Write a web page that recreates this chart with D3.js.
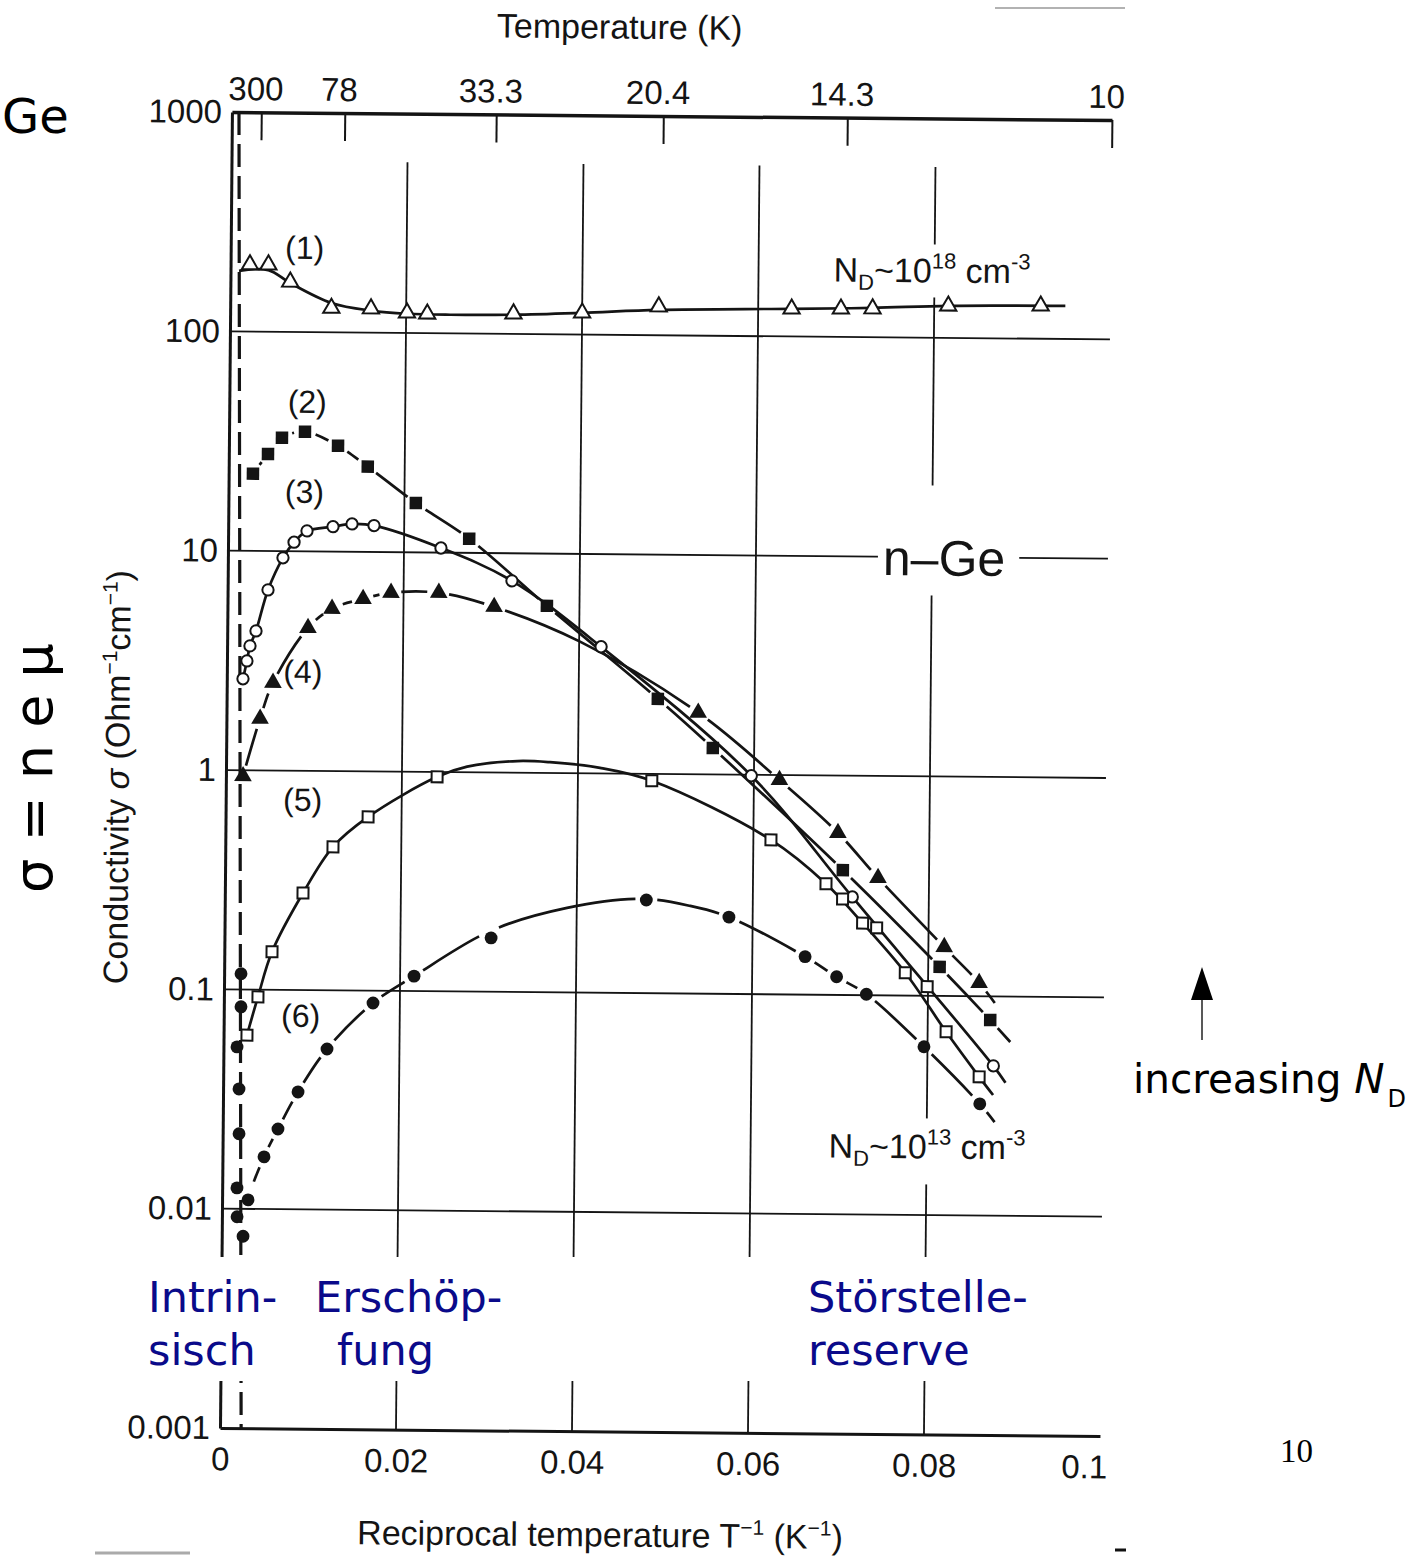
<!DOCTYPE html>
<html>
<head>
<meta charset="utf-8">
<script src="https://cdn.jsdelivr.net/npm/d3@7"></script>
<style>
  html, body { margin: 0; padding: 0; background: #fff; }
  svg { display: block; }
</style>
</head>
<body>
<svg id="chart" width="1417" height="1556"></svg>
<script>
// ---- axis ticks -------------------------------------------------------
const xTicks = [0, 0.02, 0.04, 0.06, 0.08, 0.1];
const xTickLabels = ["0", "0.02", "0.04", "0.06", "0.08", "0.1"];
const yTicks = [1000, 100, 10, 1, 0.1, 0.01, 0.001];
const yTickLabels = ["1000", "100", "10", "1", "0.1", "0.01", "0.001"];
const tempTicks = [300, 78, 33.3, 20.4, 14.3, 10];            // K, placed at 1/T
const tempTickLabels = ["300", "78", "33.3", "20.4", "14.3", "10"];
const gridX = [0.02, 0.04, 0.06, 0.08];
const gridY = [100, 10, 1, 0.1, 0.01];

// ---- measured conductivity: [1/T (1/K), sigma (1/(Ohm cm))] -----------
const pts1 = [[0.0022,202],[0.0043,202],[0.0068,169],[0.0115,129],[0.0160,128.6],[0.0201,123.6],
  [0.0224,122.5],[0.0322,123.6],[0.0400,125.7],[0.0487,134.9],[0.0638,133.7],[0.0694,134.3],
  [0.0730,135],[0.0816,140],[0.0921,141.3]];
const pts2 = [[0.00276,22.5],[0.00445,27.7],[0.00602,32.9],[0.00863,35.1],[0.0124,30.4],[0.0158,24.5],
  [0.0213,16.8],[0.0274,11.6],[0.0363,5.78],[0.0490,2.20],[0.0553,1.32],[0.0702,0.371],
  [0.0813,0.1355],[0.0871,0.078]];
const pts3 = [[0.00184,2.61],[0.00227,3.15],[0.0026,3.69],[0.00327,4.32],[0.00459,6.65],[0.00626,9.33],
  [0.0075,11.0],[0.00896,12.4],[0.01191,13.0],[0.01407,13.4],[0.01657,13.2],[0.0242,10.5],
  [0.0323,7.49],[0.0425,3.78],[0.0597,0.99],[0.0713,0.280],[0.0875,0.0482]];
const pts4 = [[0.00194,0.94],[0.00382,1.72],[0.00525,2.51],[0.00917,4.48],[0.01188,5.49],[0.0154,6.11],
  [0.01857,6.53],[0.0240,6.56],[0.0303,5.69],[0.0536,1.91],[0.0629,0.95],[0.0696,0.548],
  [0.0742,0.343],[0.0818,0.167],[0.0858,0.115]];
const pts5 = [[0.00266,0.062],[0.00387,0.0927],[0.00542,0.149],[0.00888,0.277],[0.01224,0.451],
  [0.0162,0.62],[0.0240,0.95],[0.0484,0.93],[0.0620,0.506],[0.0683,0.321],[0.0702,0.274],
  [0.0725,0.213],[0.0741,0.203],[0.0774,0.127],[0.0799,0.110],[0.0821,0.0686],[0.0859,0.0429]];
const pts6 = [[0.00192,0.118],[0.00195,0.0834],[0.00154,0.0547],[0.00181,0.0352],[0.00186,0.0220],
  [0.00168,0.01245],[0.00172,0.0092],[0.00242,0.0075],[0.00295,0.011],[0.00472,0.0173],
  [0.00628,0.0232],[0.00852,0.0343],[0.01177,0.054],[0.01695,0.0879],[0.02158,0.117],
  [0.0303,0.176],[0.0479,0.266],[0.0573,0.224],[0.0660,0.149],[0.0696,0.121],[0.0730,0.101],
  [0.0796,0.0585],[0.0860,0.0323]];

// ---- hand-drawn guide curves through each data set -----------------------
const fit1 = [[0.00097,189],[0.0043,191],[0.0068,167],[0.0115,136],[0.0160,126],[0.0201,122.4],
  [0.0250,121.6],[0.0322,122.4],[0.0400,125.7],[0.0487,130.6],[0.0638,133.7],[0.0730,136],
  [0.0816,140],[0.0949,141.5]];
const fit2 = [[0.00276,22.5],[0.00445,27.7],[0.00602,32.9],[0.00863,35.1],[0.0124,30.4],[0.0158,24.5],
  [0.0213,16.8],[0.0274,11.6],[0.0363,5.78],[0.0490,2.20],[0.0553,1.32],[0.0702,0.371],
  [0.0813,0.1355],[0.0871,0.078],[0.0894,0.062]];
const fit3 = [[0.00184,2.61],[0.00227,3.15],[0.0026,3.69],[0.00327,4.32],[0.00459,6.65],[0.00626,9.33],
  [0.0075,11.0],[0.00896,12.4],[0.01191,13.0],[0.01407,13.4],[0.01657,13.2],[0.0242,10.5],
  [0.0323,7.49],[0.0425,3.78],[0.0597,0.99],[0.0713,0.280],[0.0875,0.0482],[0.0889,0.0404]];
const fit4 = [[0.00194,0.94],[0.00382,1.72],[0.00525,2.51],[0.00917,4.48],[0.01188,5.49],[0.0154,6.11],
  [0.01857,6.53],[0.0240,6.56],[0.0303,5.69],[0.0401,3.98],[0.0536,1.91],[0.0629,0.95],
  [0.0696,0.548],[0.0742,0.343],[0.0818,0.167],[0.0858,0.115],[0.0876,0.0933]];
const fit5 = [[0.00266,0.062],[0.00387,0.0927],[0.00542,0.149],[0.00888,0.277],[0.01224,0.451],
  [0.0162,0.62],[0.0240,0.95],[0.0274,1.06],[0.0331,1.13],[0.0368,1.12],[0.0425,1.06],
  [0.0484,0.93],[0.0620,0.506],[0.0683,0.321],[0.0725,0.213],[0.0774,0.127],[0.0821,0.0686],
  [0.0859,0.0429],[0.0875,0.0355]];
const fit6 = [[0.00242,0.0075],[0.00295,0.011],[0.00472,0.0173],[0.00628,0.0232],[0.00852,0.0343],
  [0.01177,0.054],[0.01695,0.0879],[0.02158,0.117],[0.0303,0.19],[0.0389,0.243],[0.0472,0.269],
  [0.0529,0.251],[0.0573,0.224],[0.0660,0.149],[0.0696,0.121],[0.0730,0.101],[0.0796,0.0585],
  [0.0860,0.0323],[0.0877,0.0267]];
// boundary of the intrinsic range
const intrinsicEdge = [[0.0008,1000],[0.0024,0.001]];

const seriesLabels = ["(1)", "(2)", "(3)", "(4)", "(5)", "(6)"];

// ---- drawing ------------------------------------------------------------
const W = 1417, H = 1556;
const ink = "#141414";
const scanFont = "'Liberation Sans', Arial, Helvetica, sans-serif";
const slideFont = "'DejaVu Sans', Verdana, sans-serif";

const svg = d3.select("#chart");
svg.append("rect").attr("width", W).attr("height", H).attr("fill", "#fff");

const x = d3.scaleLinear().domain([0, 0.1]).range([220, 1100]);
const y = d3.scaleLog().domain([0.001, 1000]).range([1428, 112]);

// the printed figure sits slightly tilted on the page
const plot = svg.append("g").attr("transform", "rotate(0.52 220 1428)");
const gGrid = plot.append("g");
const gBg = plot.append("g");
const gAxes = plot.append("g");
const gCurves = plot.append("g");
const gMarks = plot.append("g");
const gText = plot.append("g").attr("font-family", scanFont).attr("fill", ink);

// grid
gGrid.selectAll("line.h").data(gridY).join("line").attr("class", "h")
  .attr("x1", x(0)).attr("x2", x(0.1)).attr("y1", d => y(d)).attr("y2", d => y(d))
  .attr("stroke", ink).attr("stroke-width", 1.8);
gGrid.selectAll("line.v").data(gridX).join("line").attr("class", "v")
  .attr("x1", d => x(d)).attr("x2", d => x(d)).attr("y1", y(600)).attr("y2", y(0.001))
  .attr("stroke", ink).attr("stroke-width", 1.8);

// axes
function styleAxis(g, w) {
  g.attr("font-size", 33).attr("font-family", scanFont).attr("color", ink);
  g.select(".domain").attr("stroke-width", w);
  g.selectAll(".tick line").attr("stroke-width", 2);
}
const axL = gAxes.append("g").attr("transform", `translate(${x(0)},0)`)
  .call(d3.axisLeft(y).tickValues(yTicks).tickFormat((d, i) => yTickLabels[i]).tickSize(0).tickPadding(10));
styleAxis(axL, 3);
const axB = gAxes.append("g").attr("transform", `translate(0,${y(0.001)})`)
  .call(d3.axisBottom(x).tickValues(xTicks).tickFormat((d, i) => xTickLabels[i]).tickSize(0).tickPadding(19));
styleAxis(axB, 3);
axB.selectAll(".tick text").attr("dx", d => d === 0.1 ? -16 : 0);
const axT = gAxes.append("g").attr("transform", `translate(0,${y(1000)})`)
  .call(d3.axisTop(x).tickValues(tempTicks.map(t => 1 / t)).tickFormat((d, i) => tempTickLabels[i])
    .tickSizeInner(-28).tickSizeOuter(0).tickPadding(12));
styleAxis(axT, 3.5);
axT.selectAll(".tick text").attr("dx", -6);

// axis titles
gText.append("text").attr("x", 607).attr("y", 35).attr("text-anchor", "middle")
  .attr("font-size", 34).text("Temperature (K)");
const xt = gText.append("text").attr("x", 601).attr("y", 1543).attr("text-anchor", "middle").attr("font-size", 34);
xt.append("tspan").text("Reciprocal temperature T");
xt.append("tspan").attr("dy", -13).attr("font-size", 21).text("\u22121");
xt.append("tspan").attr("dy", 13).text(" (K");
xt.append("tspan").attr("dy", -13).attr("font-size", 21).text("\u22121");
xt.append("tspan").attr("dy", 13).text(")");
const yt = gText.append("text").attr("transform", "translate(123,778) rotate(-90)")
  .attr("text-anchor", "middle").attr("font-size", 34);
yt.append("tspan").text("Conductivity ");
yt.append("tspan").attr("font-style", "italic").text("\u03c3");
yt.append("tspan").text(" (Ohm");
yt.append("tspan").attr("dy", -13).attr("font-size", 21).text("\u22121");
yt.append("tspan").attr("dy", 13).text("cm");
yt.append("tspan").attr("dy", -13).attr("font-size", 21).text("\u22121");
yt.append("tspan").attr("dy", 13).text(")");

// curves
const line = d3.line().x(d => x(d[0])).y(d => y(d[1])).curve(d3.curveCatmullRom.alpha(0.5));

gCurves.append("path").datum(intrinsicEdge).attr("d", d3.line().x(d => x(d[0])).y(d => y(d[1])))
  .attr("fill", "none").attr("stroke", ink).attr("stroke-width", 3.2).attr("stroke-dasharray", "23,9");

const series = [
  { pts: pts1, fit: fit1, shape: d3.symbolTriangle, size: 115, open: true,  gapped: false },
  { pts: pts2, fit: fit2, shape: d3.symbolSquare,   size: 156, open: false, gapped: true  },
  { pts: pts3, fit: fit3, shape: d3.symbolCircle,   size: 100, open: true,  gapped: false },
  { pts: pts4, fit: fit4, shape: d3.symbolTriangle, size: 135, open: false, gapped: true  },
  { pts: pts5, fit: fit5, shape: d3.symbolSquare,   size: 121, open: true,  gapped: false },
  { pts: pts6, fit: fit6, shape: d3.symbolCircle,   size: 130, open: false, gapped: true  },
];

// break a path around the markers that sit on it
function gapDash(node, marks, gap) {
  const L = node.getTotalLength();
  const n = Math.ceil(L / 1.5);
  const samples = d3.range(n + 1).map(i => {
    const l = i * L / n, p = node.getPointAtLength(l);
    return [l, p.x, p.y];
  });
  const cuts = [];
  marks.forEach(([mx, my]) => {
    let best = Infinity, at = 0;
    samples.forEach(([l, px, py]) => {
      const dd = (px - mx) ** 2 + (py - my) ** 2;
      if (dd < best) { best = dd; at = l; }
    });
    if (best < 225) cuts.push(at);
  });
  cuts.sort((a, b) => a - b);
  const gaps = [];
  cuts.forEach(c => {
    const a = Math.max(0, c - gap), b = Math.min(L, c + gap);
    if (gaps.length && a <= gaps[gaps.length - 1][1]) gaps[gaps.length - 1][1] = Math.max(gaps[gaps.length - 1][1], b);
    else gaps.push([a, b]);
  });
  const arr = [];
  let pos = 0;
  gaps.forEach(([a, b]) => { arr.push(a - pos, b - a); pos = b; });
  arr.push(L - pos + 1, 0);
  return arr.map(v => v.toFixed(2)).join(",");
}

series.forEach(s => {
  const p = gCurves.append("path").datum(s.fit).attr("d", line)
    .attr("fill", "none").attr("stroke", ink).attr("stroke-width", 2.7)
    .attr("stroke-linejoin", "round");
  if (s.gapped) {
    const marks = s.pts.map(d => [x(d[0]), y(d[1])]);
    p.attr("stroke-dasharray", gapDash(p.node(), marks, 11));
  }
  gMarks.append("g").selectAll("path").data(s.pts).join("path")
    .attr("transform", d => `translate(${x(d[0])},${y(d[1])})`)
    .attr("d", d3.symbol().type(s.shape).size(s.size))
    .attr("fill", s.open ? "#fff" : ink)
    .attr("stroke", s.open ? ink : "none")
    .attr("stroke-width", 2);
});

// series and curve labels
const seriesLabelPos = [[294, 258], [298, 412], [296, 502], [296, 682], [297, 810], [297, 1026]];
gText.selectAll("text.sl").data(seriesLabels).join("text").attr("class", "sl")
  .attr("x", (d, i) => seriesLabelPos[i][0]).attr("y", (d, i) => seriesLabelPos[i][1])
  .attr("text-anchor", "middle").attr("font-size", 32).text(d => d);

function doping(xp, yp, exp) {
  const t = gText.append("text").attr("x", xp).attr("y", yp).attr("font-size", 34);
  t.append("tspan").text("N");
  t.append("tspan").attr("dy", 8).attr("font-size", 22).text("D");
  t.append("tspan").attr("dy", -8).text("~10");
  t.append("tspan").attr("dy", -14).attr("font-size", 22).text(exp);
  t.append("tspan").attr("dy", 14).text(" cm");
  t.append("tspan").attr("dy", -14).attr("font-size", 22).text("-3");
  return t;
}
function clearBehind(t, l, r, top, bot) {
  const b = t.node().getBBox();
  gBg.append("rect").attr("x", b.x - l).attr("y", b.y - top)
    .attr("width", b.width + l + r).attr("height", b.height + top + bot).attr("fill", "#fff");
}
clearBehind(doping(823, 276, "18"), 6, 6, 4, 2);
clearBehind(doping(826, 1152, "13"), 6, 6, 6, 13);
const nGe = gText.append("text").attr("x", 875).attr("y", 569).attr("font-size", 50).text("n\u2013Ge");
clearBehind(nGe, 5, 14, 45, 9);

// ---- slide annotations (page coordinates) --------------------------------
svg.append("rect").attr("x", 100).attr("y", 1257).attr("width", 1010).attr("height", 124).attr("fill", "#fff");

const blue = "#0a0a8a";
const regions = [
  ["Intrin-", 148, 1312], ["sisch", 148, 1365],
  ["Ersch\u00f6p-", 315, 1312], ["fung", 337, 1365],
  ["St\u00f6rstelle-", 808, 1312], ["reserve", 808, 1365],
];
svg.append("g").selectAll("text").data(regions).join("text")
  .attr("x", d => d[1]).attr("y", d => d[2]).text(d => d[0])
  .attr("font-family", slideFont).attr("font-size", 43).attr("fill", blue);

svg.append("text").attr("x", 2).attr("y", 133).attr("font-family", slideFont)
  .attr("font-size", 48).attr("fill", "#000").text("Ge");
svg.append("text").attr("transform", "translate(52,768) rotate(-90)").attr("text-anchor", "middle")
  .attr("font-family", slideFont).attr("font-size", 54).attr("fill", "#000").text("\u03c3 = n e \u03bc");

// arrow: conductivity rises with donor concentration
svg.append("line").attr("x1", 1202).attr("x2", 1202).attr("y1", 1040).attr("y2", 998)
  .attr("stroke", "#222").attr("stroke-width", 1.5);
svg.append("path").attr("d", "M1202,967 L1191,1000 L1213,1000 Z").attr("fill", "#000");
const inc = svg.append("text").attr("x", 1133).attr("y", 1093).attr("font-family", slideFont)
  .attr("font-size", 40.5).attr("fill", "#000");
inc.append("tspan").text("increasing ");
inc.append("tspan").attr("font-style", "italic").text("N");
inc.append("tspan").attr("dx", 3).attr("dy", 14).attr("font-size", 24).text("D");

svg.append("text").attr("x", 1280).attr("y", 1462).attr("font-family", "'Liberation Serif', 'Times New Roman', serif")
  .attr("font-size", 33).attr("fill", "#000").text("10");

// page edge marks
svg.append("line").attr("x1", 995).attr("x2", 1125).attr("y1", 8).attr("y2", 8).attr("stroke", "#999").attr("stroke-width", 1.5);
svg.append("line").attr("x1", 95).attr("x2", 190).attr("y1", 1553).attr("y2", 1553).attr("stroke", "#aaa").attr("stroke-width", 3);
svg.append("line").attr("x1", 1115).attr("x2", 1126).attr("y1", 1550).attr("y2", 1550).attr("stroke", "#111").attr("stroke-width", 3);
</script>
</body>
</html>
